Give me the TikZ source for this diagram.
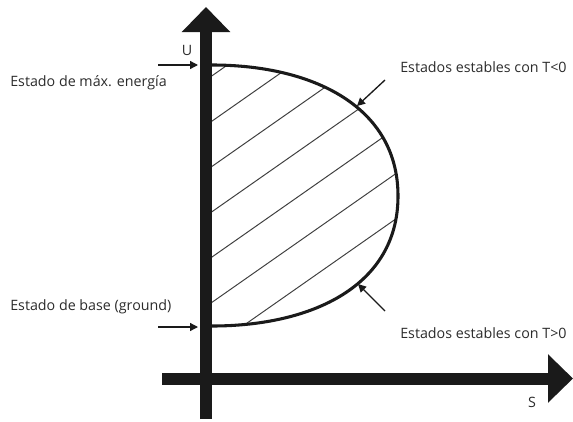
\documentclass[tikz,border=0pt]{standalone}
\usepackage{fontspec}
\setmainfont{Open Sans}
\usetikzlibrary{arrows.meta,positioning}
\definecolor{DiagInk}{HTML}{1A1A1A}
\definecolor{DiagText}{HTML}{2B2B2B}
\definecolor{DiagHatch}{HTML}{404040}
\tikzset{
  axisarrow/.style={
    line width=9pt,
    draw=DiagInk,
    -{Triangle[length=18.75pt,width=35.25pt]}
  },
  bordercurve/.style={line width=2.3pt,draw=DiagInk},
  hatchline/.style={line width=0.75pt,draw=DiagHatch},
  pointer/.style={-{Triangle[length=6pt,width=6pt]},line width=1pt,draw=DiagInk},
  labeltext/.style={text=DiagText,font=\fontsize{10.7}{12}\selectfont,inner sep=0pt}
}
\begin{document}
\begin{tikzpicture}[x=0.75pt,y=-0.75pt]
  \useasboundingbox (0,0) rectangle (573,421);
  % region of allowed states, hatched
  \begin{scope}
    \clip (206,65) -- (212,65) .. controls (312,65) and (398,106) .. (398,196)
      .. controls (398,286) and (312,326) .. (212,326) -- (206,326) -- cycle;
    \foreach \k in {-1,...,6}
      \draw[hatchline] (206,80+45.3*\k) -- ++(400,-280);
  \end{scope}
  \draw[bordercurve] (206,65) -- (212,65) .. controls (312,65) and (398,106) .. (398,196)
      .. controls (398,286) and (312,326) .. (212,326) -- (206,326);
  % axes
  \coordinate (uorig) at (206,419);
  \coordinate (utip) at (206,7);
  \coordinate (sorig) at (162,378.5);
  \coordinate (stip) at (573,378.5);
  \draw[axisarrow] (uorig) -- (utip);
  \draw[axisarrow] (sorig) -- (stip);
  \node[labeltext] (ulabel) at (187,50) {U};
  \node[labeltext] (slabel) at (532,402) {S};
  % pointers to special states
  \coordinate (maxfrom) at (158,65);
  \coordinate (maxto) at (198,65);
  \coordinate (basefrom) at (158,327);
  \coordinate (baseto) at (198,327);
  \coordinate (negfrom) at (385,80);
  \coordinate (negto) at (357,106);
  \coordinate (posfrom) at (385,311);
  \coordinate (posto) at (358,284);
  \draw[pointer] (maxfrom) -- (maxto);
  \draw[pointer] (basefrom) -- (baseto);
  \draw[pointer] (negfrom) -- (negto);
  \draw[pointer] (posfrom) -- (posto);
  \node[labeltext,anchor=west] (maxlabel) at (10,83) {Estado de máx. energía};
  \node[labeltext,anchor=west] (baselabel) at (10,307) {Estado de base (ground)};
  \node[labeltext,anchor=west] (neglabel) at (400,67) {Estados estables con T<0};
  \node[labeltext,anchor=west] (poslabel) at (400,333) {Estados estables con T>0};
\end{tikzpicture}
\end{document}
